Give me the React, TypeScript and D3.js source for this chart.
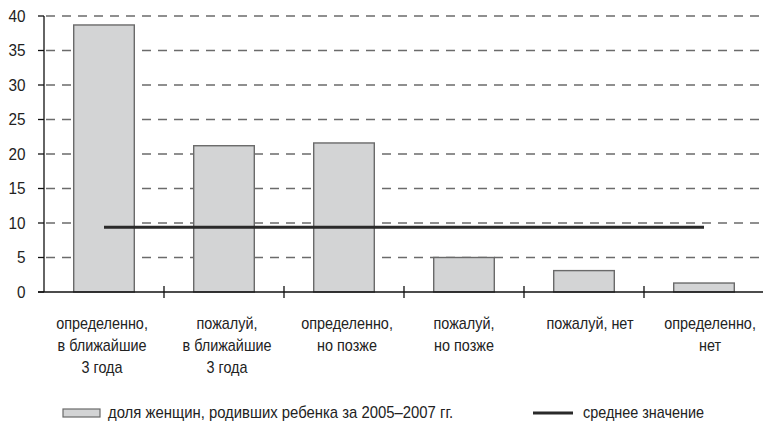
import React from "react";
import * as d3 from "d3";

const categories = [
  ["определенно,", "в ближайшие", "3 года"],
  ["пожалуй,", "в ближайшие", "3 года"],
  ["определенно,", "но позже"],
  ["пожалуй,", "но позже"],
  ["пожалуй, нет"],
  ["определенно,", "нет"],
];
const shareValues = [38.7, 21.2, 21.6, 5.0, 3.1, 1.3];
const meanValue = 9.4;
const yTicks = [0, 5, 10, 15, 20, 25, 30, 35, 40];
const legendBar = "доля женщин, родивших ребенка за 2005–2007 гг.";
const legendLine = "среднее значение";

const W = 763;
const H = 422;
const FONT = "'Liberation Sans', Arial, sans-serif";
const SX = 0.9;

function NText({ x, y, anchor = "start", size = 16, sx = SX, children }: any) {
  return (
    <text
      transform={`translate(${x},${y}) scale(${sx},1)`}
      textAnchor={anchor}
      fontSize={size}
      fill="#222"
    >
      {children}
    </text>
  );
}

export default function App() {
  const left = 44;
  const right = 764;
  const top = 16;
  const bottom = 292;
  const labelShift = [-2, 3, 3, 0, 6, 6];
  const idx = categories.map((_, i) => String(i));
  const x = d3.scaleBand<string>().domain(idx).range([left, right]).padding(0);
  const y = d3.scaleLinear().domain([0, 40]).range([bottom, top]);
  const bw = x.bandwidth();
  const barW = bw * 0.505;
  const c0 = (x("0") as number) + bw / 2;
  const c5 = (x(String(categories.length - 1)) as number) + bw / 2;

  return (
    <div style={{ position: "absolute", left: 0, top: 0 }}>
      <svg width={W} height={H} style={{ display: "block", background: "#fff" }} fontFamily={FONT}>
        {yTicks.filter((t) => t > 0).map((t) => (
          <line key={"g" + t} x1={left + 2} x2={W} y1={y(t)} y2={y(t)} stroke="#6b6b6b" strokeWidth={1.4} strokeDasharray="9,7" />
        ))}
        {shareValues.map((v, i) => {
          const cx = (x(String(i)) as number) + bw / 2;
          return (
            <rect key={"b" + i} x={cx - barW / 2} y={y(v)} width={barW} height={y(0) - y(v)} fill="#d3d4d5" stroke="#6a6a6a" strokeWidth={1.4} />
          );
        })}
        <line x1={c0} x2={c5} y1={y(meanValue)} y2={y(meanValue)} stroke="#2a2a2a" strokeWidth={3} />
        <line x1={left} x2={left} y1={y(40)} y2={y(0)} stroke="#111" strokeWidth={1.3} />
        {yTicks.map((t) => (
          <g key={"t" + t}>
            <line x1={left - 6} x2={left} y1={y(t)} y2={y(t)} stroke="#111" strokeWidth={1.3} />
            <NText x={25.5} y={y(t) + 5.8} anchor="end" size={17}>{t}</NText>
          </g>
        ))}
        <line x1={left - 6} x2={W} y1={y(0)} y2={y(0)} stroke="#111" strokeWidth={1.3} />
        {idx.slice(1).map((k) => (
          <line key={"xt" + k} x1={x(k) as number} x2={x(k) as number} y1={y(0) - 6} y2={y(0) + 6} stroke="#111" strokeWidth={1.3} />
        ))}
        {categories.map((lines, i) => {
          const cx = (x(String(i)) as number) + bw / 2 + labelShift[i];
          return (
            <g key={"c" + i}>
              {lines.map((l, j) => (
                <NText key={j} x={cx} y={329 + j * 22} anchor="middle">{l}</NText>
              ))}
            </g>
          );
        })}
        <rect x={63} y={409} width={37} height={8} fill="#d3d4d5" stroke="#6a6a6a" strokeWidth={1.2} />
        <NText x={108} y={417.5} sx={0.93}>{legendBar}</NText>
        <line x1={533} x2={573} y1={413} y2={413} stroke="#2a2a2a" strokeWidth={3} />
        <NText x={583} y={417.5}>{legendLine}</NText>
      </svg>
    </div>
  );
}
